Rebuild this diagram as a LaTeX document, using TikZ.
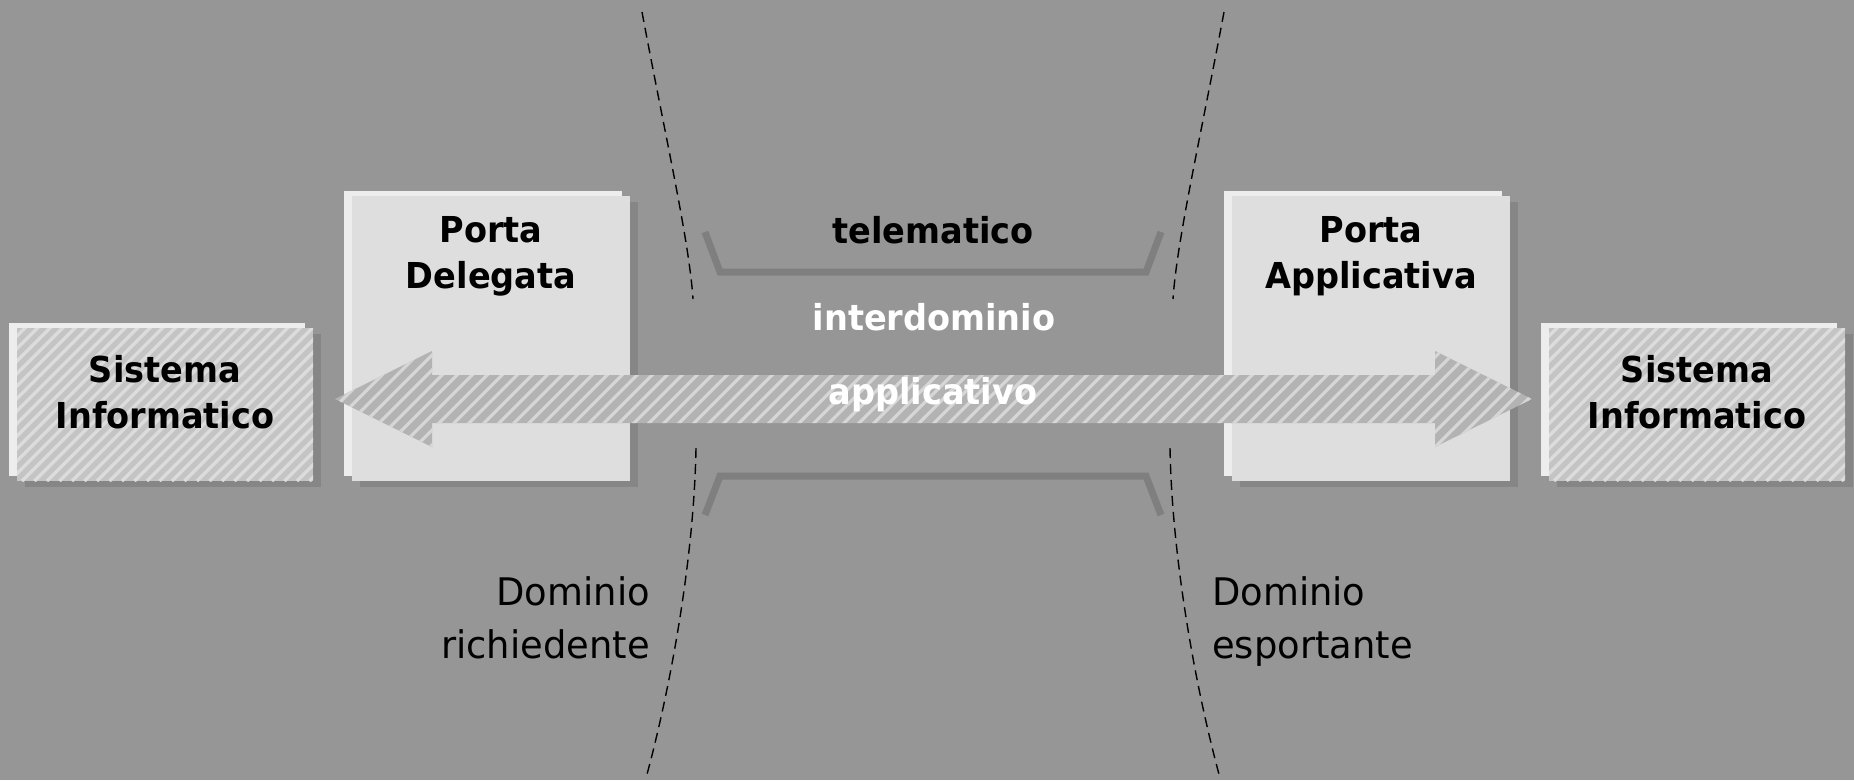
\documentclass[tikz,border=0pt]{standalone}
\usepackage{fontspec}
\setmainfont{DejaVu Sans}[FakeStretch=0.97, BoldFeatures={FakeStretch=0.94}]
\usetikzlibrary{shadows,calc}

\definecolor{bg}{HTML}{969696}
\definecolor{panelback}{HTML}{EDEDED}
\definecolor{panel}{HTML}{DEDEDE}
\definecolor{panelshadow}{HTML}{868686}
\definecolor{hatchbase}{HTML}{C4C4C4}
\definecolor{hatchline}{HTML}{DCDCDC}
\definecolor{arrowbase}{HTML}{B3B3B3}
\definecolor{arrowline}{HTML}{D6D6D6}
\definecolor{bracketgrey}{HTML}{7F7F7F}

\tikzset{
  % diagonal light stripes clipped to the current path: colour, period, width
  stripes/.style n args={3}{path picture={
    \foreach \k in {0,...,120}{
      \draw[#1, line width=#3]
        ([xshift=\k*#2-220pt]path picture bounding box.south west) -- ++(420pt,420pt);
    }}},
  layered/.style={rectangle, inner sep=0pt, draw=none,
    general shadow={shadow xshift=-8pt, shadow yshift=5.5pt, fill=panelback},
    general shadow={shadow xshift=7.5pt, shadow yshift=-5.5pt, fill=panelshadow}},
  portbox/.style={layered, fill=panel, minimum width=278pt, minimum height=285pt},
  sysbox/.style={layered, fill=hatchbase, stripes={hatchline}{12.5pt}{3.4pt},
    minimum width=296pt, minimum height=153pt},
  flowarrow/.style={fill=arrowbase, stripes={arrowline}{15pt}{3.2pt}},
  bracketline/.style={draw=bracketgrey, line width=7pt, line join=miter},
  boundary/.style={draw=black, line width=1.4pt, dash pattern=on 10pt off 6pt},
  boldlbl/.style={inner sep=0pt, align=center, text=black,
    font=\bfseries\fontsize{35.7}{45.5}\selectfont},
  whitelbl/.style={boldlbl, text=white},
  domainlbl/.style={inner sep=0pt, text=black,
    font=\fontsize{38}{53}\selectfont}
}

\begin{document}
\begin{tikzpicture}[x=1pt, y=-1pt]
  \useasboundingbox (0,0) rectangle (1854,780);
  \fill[bg] (0,0) rectangle (1854,780);

  % domain boundaries
  \draw[boundary] (642,12) .. controls (666,140) and (689,240) .. (693,299);
  \draw[boundary] (696,448) .. controls (694,560) and (670,690) .. (646,778);
  \draw[boundary] (1224,12) .. controls (1200,140) and (1177,240) .. (1173,299);
  \draw[boundary] (1170,448) .. controls (1172,560) and (1196,690) .. (1220,778);

  % channel brackets
  \draw[bracketline] (705,232) -- (720,272) -- (1146,272) -- (1161,232);
  \draw[bracketline] (705,515) -- (720,476) -- (1146,476) -- (1161,515);

  % boxes
  \node[sysbox]  (siL) at (165,404.5) {};
  \node[portbox] (pd)  at (491,338.5) {};
  \node[portbox] (pa)  at (1371,338.5) {};
  \node[sysbox]  (siR) at (1697,404.5) {};

  % double arrow between the two ports
  \coordinate (tipL) at (335,399);
  \coordinate (tipR) at (1532,399);
  \path[flowarrow] (tipL) -- ++(97,-48) -- ++(0,24)
    -- ($(tipR)+(-97,-24)$) -- ++(0,-24) -- (tipR) -- ++(-97,48) -- ++(0,-24)
    -- ($(tipL)+(97,24)$) -- ++(0,24) -- cycle;

  % labels (multi-line nodes are anchored on their last baseline)
  \node[boldlbl, anchor=base] (siLt) at (165,428) {Sistema\\Informatico};
  \node[boldlbl, anchor=base] (siRt) at (1697,428) {Sistema\\Informatico};
  \node[boldlbl, anchor=base] (pdt) at (491,288) {Porta\\Delegata};
  \node[boldlbl, anchor=base] (pat) at (1371,288) {Porta\\Applicativa};
  \node[boldlbl, anchor=base] (tel) at (933,243) {telematico};
  \node[whitelbl, anchor=base] (inter) at (934,330) {interdominio};
  \node[whitelbl, anchor=base] (app) at (933,404) {applicativo};
  \node[domainlbl, anchor=base east, align=right] (domL) at (650,658) {Dominio\\richiedente};
  \node[domainlbl, anchor=base west, align=left] (domR) at (1212,658) {Dominio\\esportante};
\end{tikzpicture}
\end{document}
